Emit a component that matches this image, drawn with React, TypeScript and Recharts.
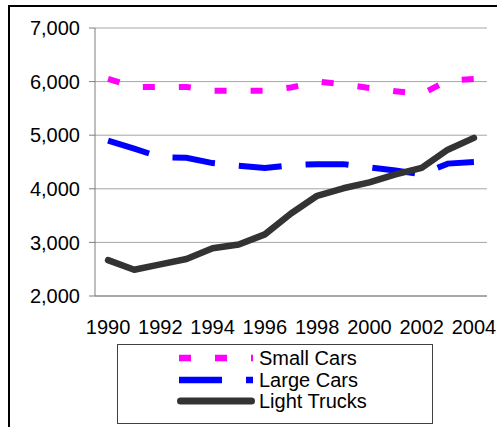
import React from "react";
import { LineChart, Line, XAxis, YAxis, CartesianGrid, Legend } from "recharts";

const years = [1990, 1991, 1992, 1993, 1994, 1995, 1996, 1997, 1998, 1999, 2000, 2001, 2002, 2003, 2004];
const smallCars = [6050, 5900, 5900, 5900, 5830, 5830, 5830, 5890, 6000, 5950, 5880, 5820, 5770, 6020, 6050];
const largeCars = [4900, 4750, 4590, 4580, 4480, 4430, 4390, 4440, 4460, 4460, 4400, 4340, 4270, 4470, 4500];
const lightTrucks = [2670, 2490, 2590, 2690, 2890, 2960, 3150, 3540, 3870, 4010, 4120, 4270, 4390, 4730, 4950];
const yTicks = [2000, 3000, 4000, 5000, 6000, 7000];
const labelYears = [1990, 1992, 1994, 1996, 1998, 2000, 2002, 2004];

const seriesNames = ["Small Cars", "Large Cars", "Light Trucks"];

const data = years.map((year, i) => ({
  year,
  "Small Cars": smallCars[i],
  "Large Cars": largeCars[i],
  "Light Trucks": lightTrucks[i],
}));

// Category band boundaries (tick marks sit between categories)
const bandBounds = [...years.map((y) => y - 0.5), years[years.length - 1] + 0.5];
const xDomain = [bandBounds[0], bandBounds[bandBounds.length - 1]];

const FONT = '"Liberation Sans", Arial, sans-serif';
const AXIS_COLOR = "#7f7f7f";
const GRID_COLOR = "#a6a6a6";

const styles: Record<string, { stroke: string; width: number; dash?: string; cap: string; join: string }> = {
  "Small Cars": { stroke: "#FF00FF", width: 6, dash: "12 24", cap: "butt", join: "miter" },
  "Large Cars": { stroke: "#0000FF", width: 6, dash: "43 24", cap: "butt", join: "miter" },
  "Light Trucks": { stroke: "#333333", width: 6.5, cap: "round", join: "round" },
};

const LegendBox = (props: any) => {
  const payload: any[] = props.payload || [];
  const ordered = seriesNames
    .map((n) => payload.find((p) => p.value === n || p.dataKey === n))
    .filter(Boolean);
  return (
    <div
      style={{
        boxSizing: "border-box",
        width: 316,
        height: 80,
        border: "1px solid #404040",
        background: "#fff",
        paddingTop: 3,
        fontFamily: FONT,
        fontSize: 20,
        color: "#000",
      }}
    >
      {ordered.map((entry: any) => {
        const s = styles[entry.value];
        return (
          <div key={entry.value} style={{ display: "flex", alignItems: "center", height: 21.5 }}>
            <svg width={141} height={21.5} style={{ display: "block", flex: "none" }}>
              <line
                x1={s.cap === "round" ? 62.5 : 61}
                x2={s.cap === "round" ? 133.5 : 135}
                y1={10}
                y2={10}
                stroke={entry.color || s.stroke}
                strokeWidth={s.cap === "round" ? 7 : 6.5}
                strokeDasharray={s.dash}
                strokeLinecap={s.cap as any}
              />
            </svg>
            <span style={{ lineHeight: "21.5px", whiteSpace: "nowrap" }}>{entry.value}</span>
          </div>
        );
      })}
    </div>
  );
};

export default function App() {
  return (
    <div
      style={{
        position: "fixed",
        left: 0,
        top: 0,
        width: 497,
        height: 427,
        overflow: "hidden",
        background: "#fff",
      }}
    >
      <div
        style={{
          position: "absolute",
          left: 8,
          top: 5,
          width: 800,
          height: 800,
          borderLeft: "2px solid #000",
          borderTop: "2px solid #000",
        }}
      />
      <div style={{ position: "absolute", left: 0, top: 0 }}>
        <LineChart
          width={497}
          height={427}
          data={data}
          margin={{ top: 28, right: 10, left: 15, bottom: 129 }}
        >
          <CartesianGrid
            horizontal={true}
            vertical={false}
            stroke={GRID_COLOR}
            strokeWidth={1}
            xAxisId="bounds"
          />
          <XAxis
            xAxisId="bounds"
            type="number"
            dataKey="year"
            domain={xDomain}
            ticks={bandBounds}
            interval={0}
            tick={false}
            tickSize={6}
            height={1}
            axisLine={{ stroke: AXIS_COLOR, strokeWidth: 1 }}
            tickLine={{ stroke: AXIS_COLOR, strokeWidth: 1 }}
          />
          <XAxis
            xAxisId="labels"
            type="number"
            dataKey="year"
            domain={xDomain}
            ticks={labelYears}
            interval={0}
            height={1}
            axisLine={false}
            tickLine={false}
            tickSize={0}
            tickMargin={23}
            tick={{ fontSize: 20, fill: "#000", fontFamily: FONT }}
          />
          <YAxis
            type="number"
            domain={[2000, 7000]}
            ticks={yTicks}
            interval={0}
            width={80}
            tickSize={6}
            tickMargin={9}
            tickFormatter={(v: number) => v.toLocaleString("en-US")}
            tick={{ fontSize: 20, fill: "#000", fontFamily: FONT }}
            axisLine={{ stroke: AXIS_COLOR, strokeWidth: 1 }}
            tickLine={{ stroke: AXIS_COLOR, strokeWidth: 1 }}
          />
          <Legend
            layout="horizontal"
            verticalAlign="middle"
            align="center"
            content={<LegendBox />}
            wrapperStyle={{ left: 117, top: 344, width: 316, height: 80 }}
          />
          {seriesNames.map((name) => {
            const s = styles[name];
            return (
              <Line
                key={name}
                xAxisId="bounds"
                type="linear"
                dataKey={name}
                name={name}
                stroke={s.stroke}
                strokeWidth={s.width}
                strokeDasharray={s.dash}
                strokeLinecap={s.cap as any}
                strokeLinejoin={s.join as any}
                dot={false}
                activeDot={false}
                isAnimationActive={false}
                legendType="line"
              />
            );
          })}
        </LineChart>
      </div>
    </div>
  );
}
